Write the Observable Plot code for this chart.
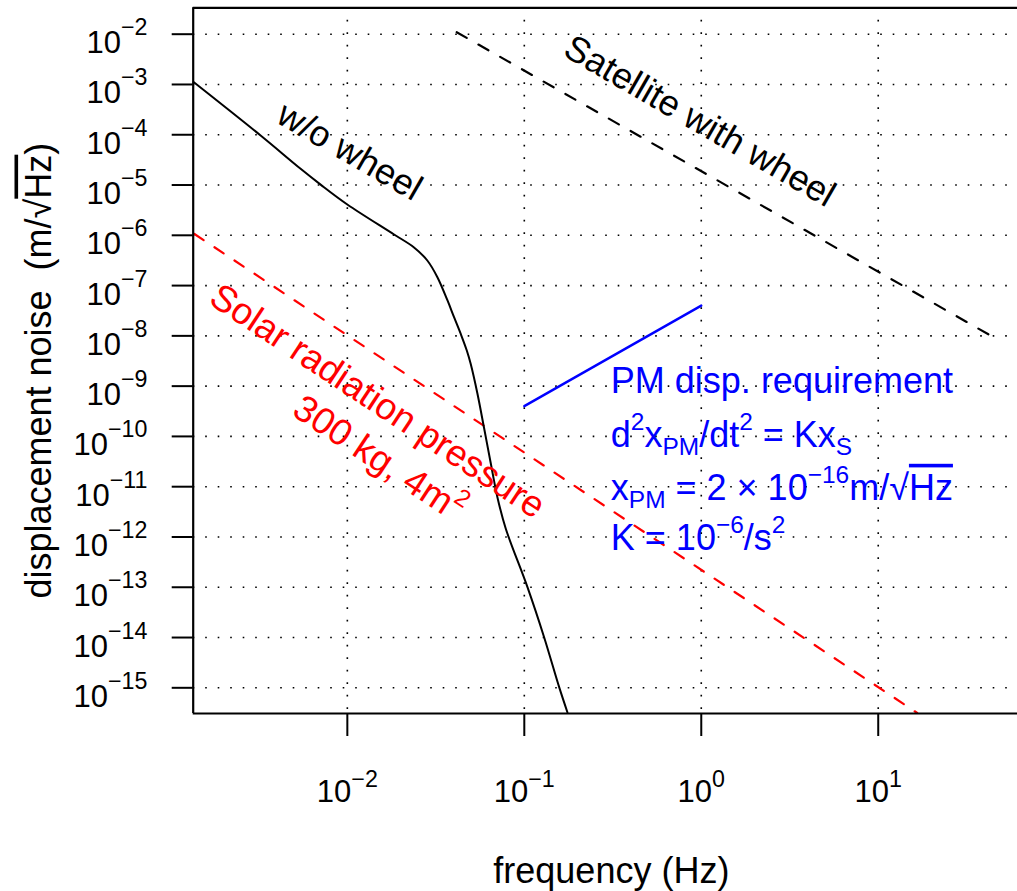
<!DOCTYPE html>
<html><head><meta charset="utf-8">
<script src="https://cdn.jsdelivr.net/npm/d3@7"></script>
<script src="https://cdn.jsdelivr.net/npm/@observablehq/plot@0.6"></script>
<style>html,body{margin:0;padding:0;background:#fff;overflow:hidden}</style>
</head><body><div id="chart"></div>
<script>
// ---------- data ----------
const xTicks = [0.01, 0.1, 1, 10];
const yTicks = [1e-2,1e-3,1e-4,1e-5,1e-6,1e-7,1e-8,1e-9,1e-10,1e-11,1e-12,1e-13,1e-14,1e-15];

const woWheelFreq = [1.352e-3,3.236e-3,5.445e-3,7.063e-3,1.0e-2,1.837e-2,2.382e-2,2.831e-2,3.228e-2,3.681e-2,4.009e-2,4.375e-2,4.732e-2,4.977e-2,5.433e-2,5.929e-2,6.471e-2,7.047e-2,7.852e-2,0.1042,0.1294,0.1574,0.1754];
const woWheelNoise = [1.119e-3,9.66e-5,2.104e-5,1.02e-5,4.10e-6,1.038e-6,5.73e-7,3.155e-7,1.469e-7,5.06e-8,2.355e-8,1.09e-8,5.12e-9,2.786e-9,7.14e-10,1.45e-10,2.858e-11,6.19e-12,1.476e-12,1.005e-13,1.016e-14,1.03e-15,3.23e-16];

const satelliteFreq = [4.15e-2, 42];
const satelliteNoise = [1.096e-2, 1.07e-8];

const solarFreq = [1.368e-3, 16.6];
const solarNoise = [1.062e-6, 3.16e-16];

const pmFreq = [0.1, 1];
const pmNoise = [4e-10, 4e-8];

const blackLabels = ["w/o wheel", "Satellite with wheel"];
const blackLabelFreq = [1.03e-2, 0.98];
const blackLabelNoise = [4.65e-5, 1.854e-4];

const redLabels = ["Solar radiation pressure", "300 kg, 4m²"];
const redLabelFreq = [1.48e-2, 1.51e-2];
const redLabelNoise = [5.0e-10, 3.6e-11];

const reqLines = ["PM disp. requirement", "d²x_PM/dt² = Kx_S", "x_PM = 2 × 10^−16 m/√Hz", "K = 10^−6/s²"];
const reqFreq = 0.3083;
const reqNoise = 7.14e-10;

const xTitle = "frequency (Hz)";
const yTitle = "displacement noise\u00a0\u00a0(m/√Hz)";

// ---------- build ----------
const zipFD = (F, D) => F.map((f, i) => ({f, d: D[i]}));
const woWheel = zipFD(woWheelFreq, woWheelNoise);
const satellite = zipFD(satelliteFreq, satelliteNoise);
const solar = zipFD(solarFreq, solarNoise);
const pm = zipFD(pmFreq, pmNoise);
const blackLab = blackLabels.map((t, i) => ({t, f: blackLabelFreq[i], d: blackLabelNoise[i]}));
const redLab = redLabels.map((t, i) => ({t, f: redLabelFreq[i], d: redLabelNoise[i]}));

const sup = d => "10^" + String(Math.round(Math.log10(d))).replace("-", "−");
const xDom = [Math.pow(10, -2.871), Math.pow(10, 1.787)];
const yDom = [Math.pow(10, -15.511), Math.pow(10, -1.475)];
const gridStyle = {stroke: "black", strokeOpacity: 1, strokeWidth: 1.6, strokeDasharray: "1.6,10.9"};
const FS = 36;
const TFS = 31;

const lineSpacing = [0, 53.7, 106.3, 157];

const chart = Plot.plot({
  width: 1017, height: 891,
  marginLeft: 192.7, marginRight: 0, marginTop: 7.3, marginBottom: 178,
  style: {fontFamily: "'Liberation Sans', Arial, Helvetica, sans-serif", background: "white"},
  x: {type: "log", domain: xDom},
  y: {type: "log", domain: yDom},
  marks: [
    Plot.gridX(xTicks, gridStyle),
    Plot.gridY(yTicks, gridStyle),
    Plot.line(solar, {x: "f", y: "d", stroke: "#ff0000", strokeWidth: 2.2, strokeDasharray: "11,13"}),
    Plot.line(satellite, {x: "f", y: "d", stroke: "black", strokeWidth: 2.2, strokeDasharray: "11.5,13.5"}),
    Plot.line(woWheel, {x: "f", y: "d", stroke: "black", strokeWidth: 2, curve: "catmull-rom"}),
    Plot.line(pm, {x: "f", y: "d", stroke: "#0000ff", strokeWidth: 2.4}),
    Plot.ruleY([yDom[1]], {strokeWidth: 2.2}),
    Plot.ruleY([yDom[0]], {strokeWidth: 2.2}),
    Plot.ruleX([xDom[0]], {strokeWidth: 2.2}),
    Plot.axisX(xTicks, {tickSize: 23, tickPadding: 0, tickFormat: sup, fontSize: TFS, strokeWidth: 2, label: null}),
    Plot.axisY(yTicks, {tickSize: 21, tickPadding: 24.7, tickFormat: sup, fontSize: TFS, strokeWidth: 2, label: null}),
    Plot.text(blackLab, {x: "f", y: "d", text: "t", rotate: 30, fontSize: FS, fill: "black"}),
    Plot.text(redLab, {x: "f", y: "d", text: "t", rotate: 33.5, fontSize: 37, fill: "#ff0000"}),
    ...reqLines.map((line, i) => Plot.text([line], {x: () => reqFreq, y: () => reqNoise, text: d => d, textAnchor: "start", lineAnchor: "bottom", dy: lineSpacing[i], fontSize: FS, fill: "#0000ff"})),
    Plot.text([xTitle], {frameAnchor: "bottom", text: d => d, textAnchor: "middle", lineAnchor: "bottom", dx: 6, dy: 169, fontSize: FS}),
    Plot.text([yTitle], {frameAnchor: "left", text: d => d, textAnchor: "middle", rotate: -90, lineAnchor: "bottom", dx: -142.7, dy: 10, fontSize: FS})
  ]
});
document.getElementById("chart").appendChild(chart);

// ---------- rich text (super/subscripts, radical bar) ----------
const NS = "http://www.w3.org/2000/svg";
function rich(el, parts, fs, supShift, subShift, scale) {
  while (el.firstChild) el.removeChild(el.firstChild);
  let cur = 0;
  for (const [s, kind] of parts) {
    const t = document.createElementNS(NS, "tspan");
    const target = kind === "sup" ? -supShift : kind === "sub" ? subShift : 0;
    if (target !== cur) t.setAttribute("dy", (target - cur) + "px");
    cur = target;
    if (kind === "sup" || kind === "sub") t.style.fontSize = (fs * scale) + "px";
    if (kind === "over") t.setAttribute("text-decoration", "overline");
    t.textContent = s;
    el.appendChild(t);
  }
}
function tickRich(sel, baseY, supShift) {
  chart.querySelectorAll(sel).forEach(el => {
    const s = el.textContent;
    if (!s.includes("^")) return;
    const [base, exp] = s.split("^");
    el.setAttribute("y", baseY + "px");
    el.style.fontSize = TFS + "px";
    rich(el, [[base, ""], [exp, "sup"]], TFS, supShift, 0, 0.75);
  });
}
tickRich('g[aria-label="y-axis tick label"] text', 19, 18);
tickRich('g[aria-label="x-axis tick label"] text', 65.7, 15);

const richMap = {
  "d²x_PM/dt² = Kx_S": [["d",""],["2","sup"],["x",""],["PM","sub"],["/dt",""],["2","sup"],[" = Kx",""],["S","sub"]],
  "x_PM = 2 × 10^−16 m/√Hz": [["x",""],["PM","sub"],[" = 2 × 10",""],["−16","sup"],["m/√",""],["Hz","over"]],
  "K = 10^−6/s²": [["K = 10",""],["−6","sup"],["/s",""],["2","sup"]],
  "300 kg, 4m²": [["300 kg, 4m",""],["2","sup"]],
  [yTitle]: [["displacement noise\u00a0\u00a0(m/√",""],["Hz","over"],[")",""]]
};
chart.querySelectorAll("text").forEach(el => {
  const parts = richMap[el.textContent];
  if (parts) rich(el, parts, FS, 17, 8, 0.68);
});
</script>
</body></html>
